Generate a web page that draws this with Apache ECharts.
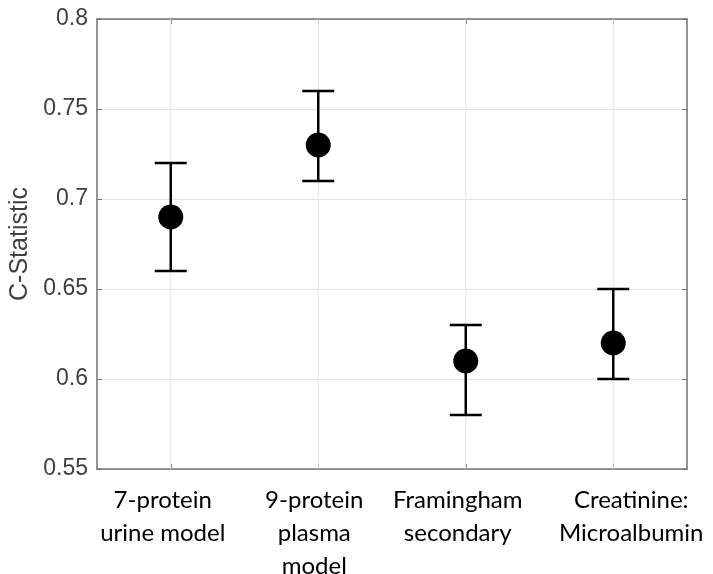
<!DOCTYPE html>
<html>
<head>
<meta charset="utf-8">
<script src="https://cdn.jsdelivr.net/npm/echarts@6/dist/echarts.min.js"></script>
<style>html,body{margin:0;padding:0;background:#fff;}#c{width:713px;height:574px;}</style>
</head>
<body>
<div id="c"></div>
<script>
const categories = ['7-protein\nurine model', '9-protein\nplasma\nmodel', 'Framingham\nsecondary', 'Creatinine:\nMicroalbumin'];
const cStat = [0.69, 0.73, 0.61, 0.62];
const lower = [0.66, 0.71, 0.58, 0.60];
const upper = [0.72, 0.76, 0.63, 0.65];
const yTicks = [0.55, 0.6, 0.65, 0.7, 0.75, 0.8];

const axisColor = '#707070';
const lbl = {color: '#000', fontFamily: 'Lato', fontSize: 24, lineHeight: 33};
const chart = echarts.init(document.getElementById('c'));
chart.setOption({
  animation: false,
  grid: {left: 97, right: 26, top: 19, bottom: 105, show: false, containLabel: false, outerBoundsMode: 'none'},
  xAxis: [{
    type: 'category', data: categories, boundaryGap: true,
    axisLine: {lineStyle: {color: axisColor, width: 1.5}},
    axisTick: {show: true, alignWithLabel: true, inside: true, length: 5, lineStyle: {color: axisColor}},
    axisLabel: {color: '#000', fontFamily: 'Lato', fontSize: 24, lineHeight: 33, margin: 15, interval: 0,
      formatter: function (v, i) {
        const key = 'k' + i;
        return v.split('\n').map(l => '{' + key + '|' + l + '}').join('\n');
      },
      rich: {
        k0: Object.assign({padding: [0, 16, 0, 0]}, lbl),
        k1: Object.assign({padding: [0, 8, 0, 0]}, lbl),
        k2: Object.assign({padding: [0, 16, 0, 0]}, lbl),
        k3: Object.assign({padding: [0, 0, 0, 36]}, lbl)
      }
    },
    splitLine: {show: false}
  }, {
    type: 'category', data: categories, boundaryGap: true, position: 'top',
    axisLine: {show: true, lineStyle: {color: axisColor, width: 1.5}},
    axisTick: {show: true, alignWithLabel: true, inside: true, length: 5, lineStyle: {color: axisColor}},
    axisLabel: {show: false}, splitLine: {show: false}
  }],
  yAxis: [{
    type: 'value', min: 0.55, max: 0.8, interval: 0.05,
    name: 'C-Statistic', nameLocation: 'middle', nameGap: 62,
    nameTextStyle: {color: '#404040', fontFamily: 'Liberation Sans', fontSize: 25},
    axisLine: {show: true, lineStyle: {color: axisColor, width: 1.5}},
    axisTick: {show: true, inside: true, length: 5, lineStyle: {color: axisColor}},
    axisLabel: {color: '#404040', fontFamily: 'Liberation Sans', fontSize: 23, margin: 9,
      formatter: v => { const t = yTicks.find(x => Math.abs(x - v) < 1e-9); return t === undefined ? '' : String(+t.toFixed(2)); }},
    splitLine: {show: true, lineStyle: {color: '#e3e3e3', width: 1}}
  }, {
    type: 'value', min: 0.55, max: 0.8, interval: 0.05, position: 'right',
    axisLine: {show: true, lineStyle: {color: axisColor, width: 1.5}},
    axisTick: {show: true, inside: true, length: 5, lineStyle: {color: axisColor}},
    axisLabel: {show: false}, splitLine: {show: false}
  }],
  series: [{
    type: 'custom', z: 1, silent: true,
    data: categories.map((c, i) => [i]),
    renderItem: function (params, api) {
      const b = api.coord([api.value(0), yTicks[0]]);
      const t = api.coord([api.value(0), yTicks[yTicks.length - 1]]);
      return {type: 'line', shape: {x1: b[0], y1: b[1], x2: t[0], y2: t[1]}, style: {stroke: '#e3e3e3', lineWidth: 1}};
    }
  }, {
    type: 'custom', z: 3, silent: true,
    data: categories.map((c, i) => [i, lower[i], upper[i]]),
    renderItem: function (params, api) {
      const lo = api.coord([api.value(0), api.value(1)]);
      const hi = api.coord([api.value(0), api.value(2)]);
      const hw = 16;
      const st = {stroke: '#000', lineWidth: 2.5};
      return {type: 'group', children: [
        {type: 'line', shape: {x1: lo[0], y1: lo[1], x2: hi[0], y2: hi[1]}, style: st},
        {type: 'line', shape: {x1: lo[0] - hw, y1: lo[1], x2: lo[0] + hw, y2: lo[1]}, style: st},
        {type: 'line', shape: {x1: hi[0] - hw, y1: hi[1], x2: hi[0] + hw, y2: hi[1]}, style: st}
      ]};
    }
  }, {
    type: 'scatter', z: 4, symbol: 'circle', symbolSize: 25,
    itemStyle: {color: '#000', opacity: 1},
    data: cStat
  }]
});
</script>
</body>
</html>
